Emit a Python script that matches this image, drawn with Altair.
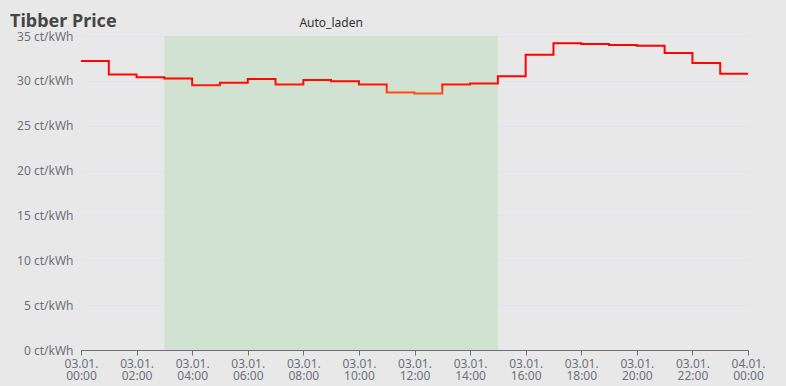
import altair as alt
import pandas as pd

# ---- data ----
hour_labels = [f"2024-01-03T{h:02d}:00:00Z" for h in range(24)] + ["2024-01-04T00:00:00Z"]
prices = [32.2, 30.7, 30.4, 30.25, 29.5, 29.8, 30.2, 29.6, 30.1, 29.95, 29.6, 28.7,
          28.6, 29.6, 29.7, 30.5, 32.9, 34.2, 34.1, 34.0, 33.9, 33.1, 32.0, 30.8,
          30.8]
band_names = ["Auto_laden"]
band_starts = ["2024-01-03T03:00:00Z"]
band_ends = ["2024-01-03T15:00:00Z"]
y_ticks = [0, 5, 10, 15, 20, 25, 30, 35]
x_tick_labels = [f"2024-01-03T{h:02d}:00:00Z" for h in range(0, 24, 2)] + ["2024-01-04T00:00:00Z"]


def ms(s):
    return int(pd.Timestamp(s).value // 10**6)


price_df = pd.DataFrame({"t": [ms(s) for s in hour_labels], "price": prices})
band_df = pd.DataFrame({
    "name": band_names,
    "start": [ms(s) for s in band_starts],
    "end": [ms(s) for s in band_ends],
})

x_domain = [ms(hour_labels[0]), ms(hour_labels[-1])]
x_values = [ms(s) for s in x_tick_labels]

FONT = "Noto Sans"
GRAY = "#6e7079"

x_scale = alt.Scale(type="utc", domain=x_domain, nice=False)
y_scale = alt.Scale(domain=[0, 35], nice=False)

x_axis = alt.Axis(
    title=None, values=x_values, grid=False,
    labelExpr="[utcFormat(datum.value, '%d.%m.'), utcFormat(datum.value, '%H:%M')]",
    labelColor=GRAY, labelFontSize=12, labelFont=FONT, labelLineHeight=12,
    labelPadding=3, labelFlush=False, labelOverlap=False,
    domainColor=GRAY, tickColor=GRAY, tickSize=5,
)
y_axis = alt.Axis(
    title=None, values=y_ticks, labelExpr="datum.value + ' ct/kWh'",
    labelColor=GRAY, labelFontSize=12, labelFont=FONT, labelPadding=8,
    domain=False, ticks=False, grid=True, gridColor="#dfe4f0", gridWidth=1,
)

band = alt.Chart(band_df).mark_rect(color="#d1e2d2").encode(
    x=alt.X("start:T", scale=x_scale, axis=x_axis),
    x2="end:T",
    y=alt.Y(datum=0, scale=y_scale, axis=y_axis),
    y2=alt.datum(35),
)

band_label = alt.Chart(band_df).transform_calculate(
    mid="(datum.start + datum.end) / 2"
).mark_text(font=FONT, fontSize=12, color="#333333", dy=-13, baseline="middle").encode(
    x=alt.X("mid:T", scale=x_scale),
    y=alt.Y(datum=35, scale=y_scale),
    text="name:N",
)

line = alt.Chart(price_df).mark_line(
    interpolate="step-after", strokeWidth=2,
    stroke=alt.Gradient(
        gradient="linear", x1=0, y1=0, x2=0, y2=1,
        stops=[alt.GradientStop(color="#ff0000", offset=0),
               alt.GradientStop(color="#ff0800", offset=0.78),
               alt.GradientStop(color="#ff5010", offset=1)],
    ),
).encode(
    x=alt.X("t:T", scale=x_scale),
    y=alt.Y("price:Q", scale=y_scale),
)

chart = alt.layer(band, band_label, line).properties(
    width=667, height=314,
    padding={"left": 81, "top": 36, "right": 38, "bottom": 36},
    autosize=alt.AutoSizeParams(type="none"),
    background="#e8e8e8",
    title=alt.TitleParams(
        "Tibber Price", anchor="start", frame="group", dx=-71, dy=14, offset=0,
        fontSize=18, fontWeight="bold", color="#464646", font=FONT,
    ),
).configure_view(stroke=None)

chart.save("out.html", embed_options={"renderer": "svg", "actions": False})
